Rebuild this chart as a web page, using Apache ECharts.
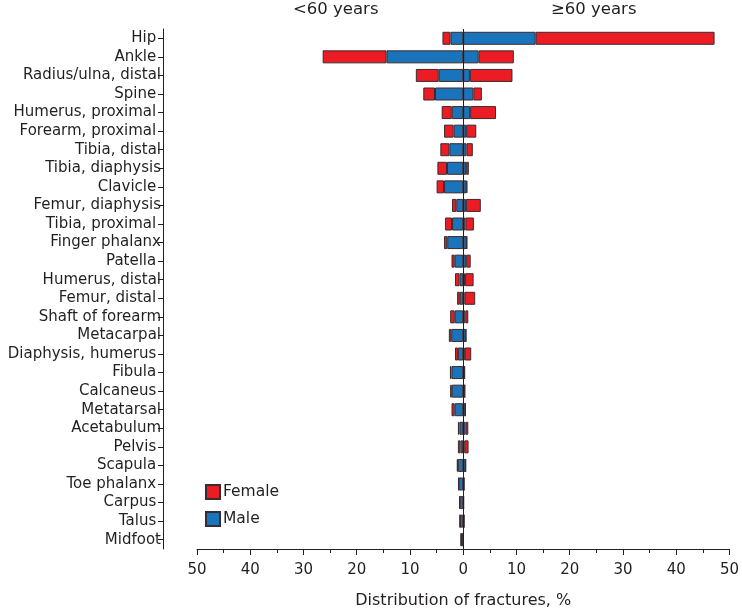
<!DOCTYPE html>
<html>
<head>
<meta charset="utf-8">
<script src="https://cdn.jsdelivr.net/npm/echarts@6/dist/echarts.min.js"></script>
<style>
html,body{margin:0;padding:0;background:#fff;}
#chart{width:742px;height:614px;}
</style>
</head>
<body>
<div id="chart"></div>
<script>
// Fracture sites (top to bottom)
const categories = ["Hip ", "Ankle ", "Radius/ulna, distal", "Spine ", "Humerus, proximal ", "Forearm, proximal ",
  "Tibia, distal", "Tibia, diaphysis", "Clavicle ", "Femur, diaphysis", "Tibia, proximal ", "Finger phalanx",
  "Patella ", "Humerus, distal", "Femur, distal ", "Shaft of forearm", "Metacarpal", "Diaphysis, humerus ",
  "Fibula ", "Calcaneus ", "Metatarsal", "Acetabulum", "Pelvis ", "Scapula ", "Toe phalanx ", "Carpus ",
  "Talus ", "Midfoot"];
// <60 years (%), segment lengths
const maleUnder60   = [2.4, 14.4, 4.6, 5.3, 2.15, 1.8, 2.6, 3.05, 3.6, 1.3, 2.1, 3.0, 1.6, 0.7, 0.65, 1.6, 2.25, 1.0, 2.2, 2.15, 1.6, 0.7, 0.5, 1.0, 0.85, 0.65, 0.6, 0.4];
const femaleUnder60 = [1.5, 12.0, 4.3, 2.2, 1.9, 1.8, 1.7, 1.8, 1.4, 0.8, 1.3, 0.6, 0.6, 0.85, 0.5, 0.85, 0.45, 0.55, 0.3, 0.3, 0.6, 0.3, 0.5, 0.2, 0.08, 0.08, 0.05, 0.05];
// >=60 years (%), segment lengths
const maleOver60    = [13.6, 2.9, 1.25, 1.9, 1.3, 0.55, 0.6, 0.55, 0.6, 0.5, 0.4, 0.65, 0.55, 0.35, 0.25, 0.4, 0.5, 0.3, 0.25, 0.28, 0.4, 0.45, 0.2, 0.45, 0.15, 0.08, 0.15, 0.03];
const femaleOver60  = [33.6, 6.6, 8.0, 1.6, 4.85, 1.9, 1.2, 0.5, 0.15, 2.8, 1.6, 0.05, 0.85, 1.6, 2.0, 0.55, 0.02, 1.2, 0.02, 0.02, 0.02, 0.5, 0.8, 0.02, 0, 0, 0, 0];
const xTicks = [-50, 50, 10];

const RED = '#ec1c24', BLUE = '#1a74bb', BORDER = '#3b2b2d', TXT = '#231f20';
const FONT = '"DejaVu Sans", "Liberation Sans", Arial, sans-serif';

const chart = echarts.init(document.getElementById('chart'), null, {renderer: 'canvas'});
const barCommon = {type: 'bar', barWidth: 13, barGap: '-100%', itemStyle: {borderColor: BORDER, borderWidth: 1}};
chart.setOption({
  animation: false,
  textStyle: {fontFamily: FONT, color: TXT},
  grid: {left: 197, right: 9, top: 29, bottom: 60, containLabel: false},
  legend: {
    orient: 'vertical', left: 200, top: 479, itemWidth: 14, itemHeight: 14, itemGap: 11,
    icon: 'rect', data: ['Female', 'Male'],
    textStyle: {fontSize: 15.5, color: TXT, fontFamily: FONT, padding: [0, 0, 0, -2]}
  },
  graphic: [
    {type: 'text', left: 293, top: 1, style: {text: '<60 years', fontSize: 16.5, fill: TXT, fontFamily: FONT}},
    {type: 'text', left: 551, top: 1, style: {text: '\u226560 years', fontSize: 16.5, fill: TXT, fontFamily: FONT}}
  ],
  xAxis: {
    type: 'value', min: xTicks[0], max: xTicks[1], interval: xTicks[2],
    position: 'bottom',
    axisLine: {show: true, onZero: false, lineStyle: {color: TXT, width: 1}},
    axisTick: {show: true, inside: false, length: 6, lineStyle: {color: TXT}},
    minorTick: {show: true, splitNumber: 2, length: 4, lineStyle: {color: TXT}},
    splitLine: {show: false},
    axisLabel: {formatter: v => Math.abs(v), fontSize: 15, color: TXT, margin: 14, fontFamily: FONT},
    name: 'Distribution of fractures, %', nameLocation: 'middle', nameGap: 44,
    nameTextStyle: {fontSize: 16, color: TXT, fontFamily: FONT}
  },
  yAxis: {
    type: 'category', data: categories, inverse: true, offset: 34,
    axisLine: {show: true, onZero: false, lineStyle: {color: TXT, width: 1}},
    axisTick: {show: true, alignWithLabel: true, length: 5, lineStyle: {color: TXT}},
    axisLabel: {interval: 0, fontSize: 15, color: TXT, margin: 2, fontFamily: FONT},
    splitLine: {show: false}
  },
  series: [
    Object.assign({}, barCommon, {name: 'Male', stack: 'L', color: BLUE, data: maleUnder60.map(v => -v),
      markLine: {silent: true, symbol: 'none', label: {show: false}, lineStyle: {color: TXT, width: 1, type: 'solid'}, data: [{xAxis: 0}]}}),
    Object.assign({}, barCommon, {name: 'Female', stack: 'L', color: RED, data: femaleUnder60.map(v => -v)}),
    Object.assign({}, barCommon, {name: 'Male', stack: 'R', color: BLUE, data: maleOver60}),
    Object.assign({}, barCommon, {name: 'Female', stack: 'R', color: RED, data: femaleOver60})
  ]
});
</script>
</body>
</html>
